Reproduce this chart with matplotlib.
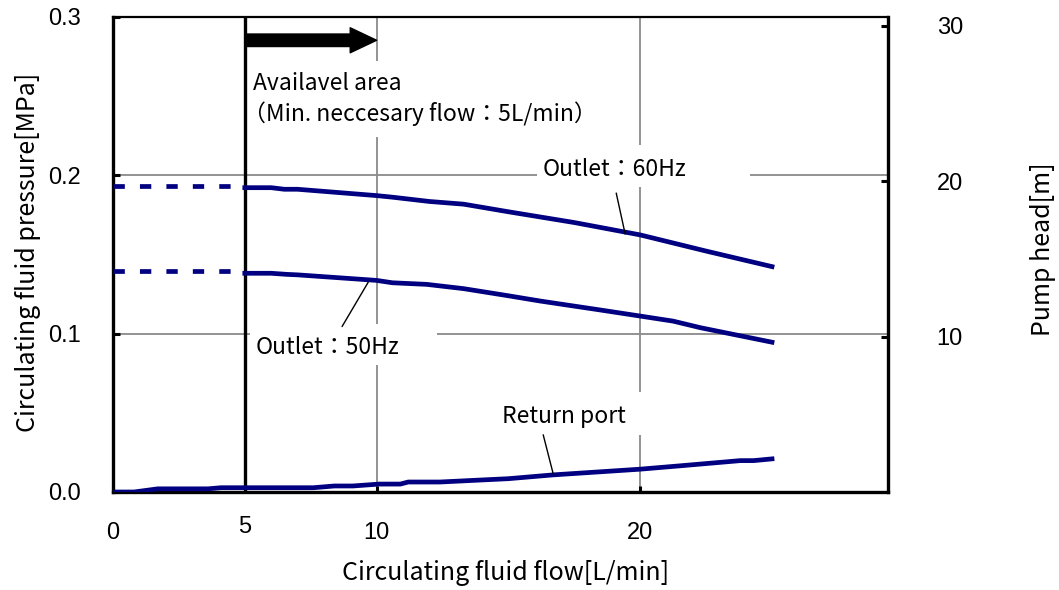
import matplotlib
matplotlib.use("Agg")
import matplotlib.pyplot as plt
import matplotlib.transforms as mtransforms
from matplotlib.patches import Rectangle

# ---------------- data ----------------
flow_60 = [5, 6, 6.5, 7, 8.5, 10, 10.6, 12, 13.3, 15, 17.5, 20, 22.5, 25]
press_60 = [0.192, 0.192, 0.191, 0.191, 0.189, 0.187, 0.186, 0.1833, 0.1816,
            0.1768, 0.170, 0.1622, 0.152, 0.1422]

flow_50 = [5, 6, 6.6, 7, 10, 10.6, 11.9, 13.3, 15, 16.2, 18.5, 20, 21.25, 22.3, 25]
press_50 = [0.138, 0.138, 0.1373, 0.137, 0.1335, 0.132, 0.131, 0.1283, 0.1238,
            0.1205, 0.1148, 0.111, 0.1078, 0.1036, 0.0945]

flow_ret = [0, 0.8, 1.7, 3.6, 4.1, 7.6, 8.4, 9.1, 10.1, 10.9, 11.2, 12.4, 14, 15,
            16.7, 20, 21.5, 23.8, 24.3, 25]
press_ret = [0.0, 0.0, 0.002, 0.002, 0.0027, 0.0027, 0.0038, 0.0038, 0.005, 0.005,
             0.0063, 0.0063, 0.0076, 0.0084, 0.0108, 0.0144, 0.0165, 0.0198,
             0.0198, 0.0209]

dash_flow = [0, 5]
dash_60 = [0.193, 0.193]
dash_50 = [0.1395, 0.1395]

min_flow = 5
m_per_mpa = 102.0

x_ticks = [0, 5, 10, 20]
x_ticklabels = ["0", "5", "10", "20"]
y_ticks = [0.0, 0.1, 0.2, 0.3]
y_ticklabels = ["0.0", "0.1", "0.2", "0.3"]
head_ticks = [10, 20, 30]
head_ticklabels = ["10", "20", "30"]

# ---------------- figure ----------------
W, H = 1059, 590
fig = plt.figure(figsize=(W / 100, H / 100), dpi=100)
L, R, T, B = 113, 888, 16.5, 492
ax = fig.add_axes([L / W, 1 - B / H, (R - L) / W, (B - T) / H])

tick_font = ["Liberation Sans", "DejaVu Sans"]
jp_font = ["Noto Sans CJK JP", "DejaVu Sans"]
navy = "#000080"

ax.set_xlim(0, 29.4)
ax.set_ylim(0, 0.3)
ax.set_xticks(x_ticks)
ax.set_xticklabels(x_ticklabels, family=tick_font, fontsize=17)
ax.set_yticks(y_ticks)
ax.set_yticklabels(y_ticklabels, family=tick_font, fontsize=17)
ax.tick_params(axis="y", direction="in", length=5, width=2.2, pad=23, right=False)
ax.tick_params(axis="x", direction="in", length=4.5, width=2.2, pad=21.5, top=False)
# the "5" label sits a little higher
lbl5 = ax.get_xticklabels()[1]
lbl5.set_transform(lbl5.get_transform() + mtransforms.ScaledTranslation(0, 4.5 / 72, fig.dpi_scale_trans))

ax.set_axisbelow(True)
ax.grid(True, color="#8a8a8a", linewidth=1.3)
for s in ["left", "bottom"]:
    ax.spines[s].set_linewidth(2.4)
ax.spines["top"].set_linewidth(1.6)
ax.spines["right"].set_visible(False)

# white boxes behind the callout labels (cover the grid)
for (x0, y0, x1, y1) in [(16.1, 0.1924, 24.15, 0.219),
                         (5.2, 0.0804, 12.3, 0.1057),
                         (14.5, 0.036, 20.6, 0.0633),
                         (5.15, 0.224, 14.5, 0.272)]:
    ax.add_patch(Rectangle((x0, y0), x1 - x0, y1 - y0, facecolor="white",
                           edgecolor="none", zorder=1))

ax.axvline(min_flow, color="black", linewidth=2.4, zorder=2.6)

lw = 3.4
ax.plot(flow_60, press_60, color=navy, linewidth=lw, zorder=3, solid_joinstyle="round")
ax.plot(flow_50, press_50, color=navy, linewidth=lw, zorder=3, solid_joinstyle="round")
ax.plot(flow_ret, press_ret, color=navy, linewidth=lw, zorder=3, solid_joinstyle="round")
ax.plot(dash_flow, dash_60, color=navy, linewidth=lw, dashes=(2.4, 3.2), zorder=3)
ax.plot(dash_flow, dash_50, color=navy, linewidth=lw, dashes=(2.4, 3.2), zorder=3)

# arrow
ax.annotate("", xy=(10.0, 0.285), xytext=(min_flow, 0.285),
            arrowprops=dict(arrowstyle="simple,head_length=19,head_width=18,tail_width=9",
                            mutation_scale=1, fc="black", ec="black",
                            shrinkA=0, shrinkB=0), zorder=4)

ann_fs = 16.5
ax.text(5.31, 0.2575, "Availavel area", family=jp_font, fontsize=ann_fs,
        ha="left", va="center", zorder=4)
ax.text(4.92, 0.2385, "（Min. neccesary flow：5L/min）", family=jp_font, fontsize=ann_fs,
        ha="left", va="center", zorder=4)
ax.text(16.3, 0.2035, "Outlet：60Hz", family=jp_font, fontsize=ann_fs,
        ha="left", va="center", zorder=4)
ax.text(5.42, 0.091, "Outlet：50Hz", family=jp_font, fontsize=ann_fs,
        ha="left", va="center", zorder=4)
ax.text(14.75, 0.0475, "Return port", family=jp_font, fontsize=ann_fs,
        ha="left", va="center", zorder=4)

# leader lines
for (xa, ya, xb, yb) in [(19.09, 0.1886, 19.43, 0.1627),
                         (8.69, 0.1044, 9.68, 0.1323),
                         (16.32, 0.0361, 16.70, 0.0114)]:
    ax.annotate("", xy=(xb, yb), xytext=(xa, ya),
                arrowprops=dict(arrowstyle="-", color="black", lw=1.0,
                                shrinkA=0, shrinkB=0), zorder=4)

# right axis: pump head
ax2 = ax.twinx()
ax2.set_ylim(0, 0.3 * m_per_mpa)
ax2.set_yticks(head_ticks)
ax2.set_yticklabels(head_ticklabels, family=tick_font, fontsize=17)
ax2.tick_params(axis="y", direction="in", length=5, width=2.2, pad=35)
for s in ["left", "top", "bottom"]:
    ax2.spines[s].set_visible(False)
ax2.spines["right"].set_linewidth(2.4)

# axis labels
lab_fs = 18
fig.text(506 / W, 1 - 573 / H, "Circulating fluid flow[L/min]", family=jp_font,
         fontsize=lab_fs, ha="center", va="center")
fig.text(28 / W, 1 - 252 / H, "Circulating fluid pressure[MPa]", family=jp_font,
         fontsize=lab_fs, ha="center", va="center", rotation=90)
fig.text(1043 / W, 1 - 249 / H, "Pump head[m]", family=jp_font,
         fontsize=lab_fs, ha="center", va="center", rotation=90)

fig.savefig("out.png", dpi=100, facecolor="white")
